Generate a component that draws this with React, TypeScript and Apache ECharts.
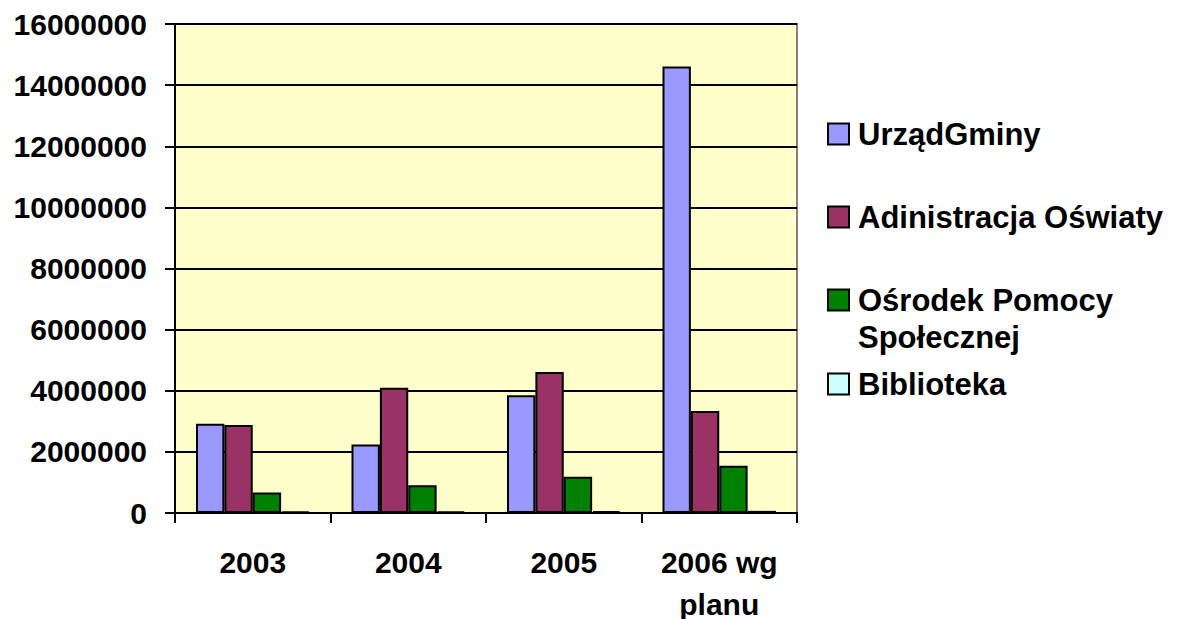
import React, { useEffect, useRef } from "react";
import * as echarts from "echarts";

const categories = ["2003", "2004", "2005", "2006 wg\nplanu"];
const seriesNames = ["UrządGminy", "Adinistracja Oświaty", "Ośrodek Pomocy Społecznej", "Biblioteka"];
const urzadGminy = [2920000, 2240000, 3850000, 14610000];
const administracjaOswiaty = [2880000, 4100000, 4610000, 3340000];
const osrodekPomocy = [670000, 910000, 1190000, 1550000];
const biblioteka = [50000, 50000, 60000, 70000];
const colors = ["#9999FF", "#993366", "#008000", "#CCFFFF"];
const yTicks = { min: 0, max: 16000000, interval: 2000000 };

const FONT = "'Liberation Sans', Arial, sans-serif";

export default function App() {
  const ref = useRef<HTMLDivElement>(null);
  useEffect(() => {
    if (!ref.current) return;
    const chart = echarts.init(ref.current, null, { renderer: "svg" });
    const values = [urzadGminy, administracjaOswiaty, osrodekPomocy, biblioteka];
    const legendCenters = [134, 217, 300, 384];
    const LH = 37;
    const legends = seriesNames.map((name, i) => {
      const multi = i === 2;
      return {
        show: true,
        orient: "vertical",
        left: 827,
        top: multi ? legendCenters[i] - LH * 1.5 : legendCenters[i] - LH / 2,
        padding: 0,
        itemWidth: 21,
        itemHeight: 21,
        icon: "rect",
        data: [name],
        selectedMode: false,
        formatter: multi ? () => "\nOśrodek Pomocy\nSpołecznej" : undefined,
        textStyle: {
          fontFamily: FONT,
          fontWeight: "bold",
          fontSize: 31,
          color: "#000",
          lineHeight: LH,
          padding: [0, 0, 0, 4],
        },
      };
    });
    chart.setOption({
      animation: false,
      backgroundColor: "#fff",
      grid: {
        left: 175,
        right: 383,
        top: 24,
        bottom: 106,
        outerBoundsMode: "none",
        containLabel: false,
        show: true,
        backgroundColor: "#FFFFCC",
        borderColor: "#808080",
        borderWidth: 2,
      },
      legend: legends,
      xAxis: {
        type: "category",
        data: categories,
        boundaryGap: true,
        axisLine: { show: true, lineStyle: { color: "#000", width: 2 } },
        axisTick: { show: true, length: 10, lineStyle: { color: "#000", width: 2 } },
        axisLabel: {
          fontFamily: FONT,
          fontWeight: "bold",
          fontSize: 30,
          color: "#000",
          lineHeight: 42,
          margin: 28,
          interval: 0,
        },
      },
      yAxis: {
        type: "value",
        min: yTicks.min,
        max: yTicks.max,
        interval: yTicks.interval,
        axisLine: { show: true, lineStyle: { color: "#000", width: 2 } },
        axisTick: { show: true, length: 10, lineStyle: { color: "#000", width: 2 } },
        splitLine: { show: true, lineStyle: { color: "#000", width: 2 } },
        axisLabel: {
          fontFamily: FONT,
          fontWeight: "bold",
          fontSize: 30,
          color: "#000",
          margin: 28,
          formatter: (v: number) => String(v),
        },
      },
      series: seriesNames.map((name, i) => ({
        name,
        type: "bar",
        data: values[i],
        barGap: "0%",
        barCategoryGap: "27%",
        itemStyle: { color: colors[i], borderColor: "#000", borderWidth: 2 },
      })),
    });
    return () => chart.dispose();
  }, []);
  return (
    <div
      ref={ref}
      style={{ position: "fixed", left: 0, top: 0, width: 1180, height: 619 }}
    />
  );
}
